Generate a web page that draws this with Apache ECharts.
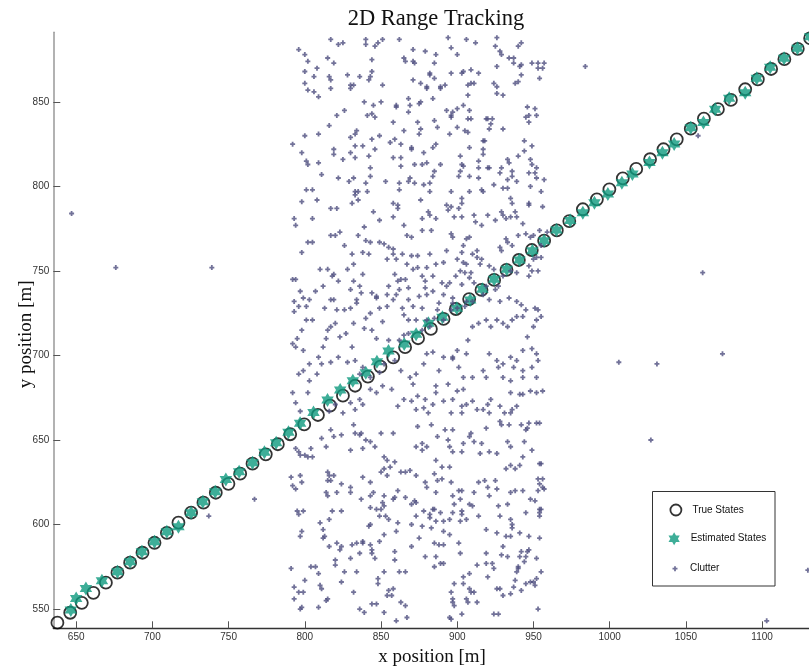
<!DOCTYPE html>
<html>
<head>
<meta charset="utf-8">
<script src="https://cdn.jsdelivr.net/npm/echarts@6/dist/echarts.min.js"></script>
<style>
  html, body { margin: 0; padding: 0; background: #fff; }
  #chart { width: 809px; height: 670px; }
</style>
</head>
<body>
<div id="chart"></div>
<script>
// Axis ticks
const xTicks = [650, 700, 750, 800, 850, 900, 950, 1000, 1050, 1100];
const yTicks = [550, 600, 650, 700, 750, 800, 850];

// True target positions, one per scan
const trueX = [637.7,646.1,653.7,661.3,669.5,677.1,685.4,693.5,701.4,709.5,717.1,725.4,733.5,741.6,749.9,757.6,765.7,774.4,782.3,790.4,799.6,808.6,816.6,825.0,833.0,841.4,849.6,858.0,865.8,874.3,882.7,891.0,899.1,907.8,915.9,924.2,932.3,940.4,948.9,957.0,965.3,973.5,982.4,991.6,999.8,1008.6,1017.4,1026.5,1035.3,1044.0,1053.2,1061.8,1071.0,1079.5,1088.9,1097.2,1105.9,1114.6,1123.4,1131.5];
const trueY = [541.9,547.8,553.7,559.6,565.6,571.5,577.4,583.3,589.2,595.1,601.1,607.0,612.9,618.8,624.1,630.1,636.0,641.5,647.5,653.4,659.2,664.8,670.3,676.2,682.1,687.5,693.4,698.9,704.9,710.2,715.7,721.6,727.5,733.4,738.8,744.7,750.6,756.5,762.4,767.9,774.0,779.5,786.5,792.4,798.3,804.8,810.4,816.1,822.0,827.9,834.2,840.1,845.7,851.2,857.5,863.4,869.5,875.3,881.4,887.7];

// Filter estimates (from the second scan on)
const estX = [646.5,650.0,656.4,666.9,677.1,685.4,693.1,701.4,709.5,717.1,725.4,733.1,741.2,748.2,756.9,765.7,773.5,781.2,789.3,796.9,805.7,814.9,823.2,831.5,840.0,847.3,854.9,865.2,873.0,881.1,890.3,899.7,908.5,916.5,924.2,932.5,940.8,949.3,957.0,965.1,974.1,982.4,990.0,998.8,1008.0,1014.9,1026.1,1034.6,1042.3,1053.2,1061.5,1069.2,1078.4,1088.9,1096.5,1105.3,1114.4,1123.2,1131.5];
const estY = [549.4,556.3,562.1,566.7,572.1,578.0,583.9,589.8,595.7,598.7,607.0,613.5,619.4,626.7,631.2,636.6,642.7,648.4,654.6,659.9,666.2,673.7,679.6,685.1,689.8,696.3,702.7,706.8,712.5,719.1,722.6,727.9,732.8,739.2,745.1,751.0,756.5,762.0,767.9,774.3,779.8,784.5,790.4,795.6,802.2,807.4,814.1,820.0,825.1,834.8,837.8,845.7,852.2,855.5,864.0,870.5,875.9,881.8,888.5];

// Clutter detections [x, y]
const clutter = [
[817,887],[822,884],[825,885],[840,887],[840,884],[846,883],[848,885],[851,887],[862,887],[894,888],[896,882],[906,887],[912,885],[926,888],[925,883],[928,880],[929,878],[940,883],[942,885],[796,881],[800,878],[802,874],[808,870],[800,868],[806,865],[800,861],[802,857],[806,856],[809,853],[815,876],[819,873],[816,865],[817,863],[817,858],[828,866],[836,865],[830,860],[832,860],[830,858],[844,875],[844,868],[842,863],[843,865],[851,860],[865,876],[866,874],[871,874],[872,873],[871,881],[879,880],[886,878],[885,873],[882,867],[882,866],[885,864],[871,863],[876,861],[880,859],[880,858],[889,859],[889,858],[892,860],[900,878],[896,867],[903,867],[904,868],[909,869],[914,867],[907,860],[909,861],[911,861],[907,854],[924,861],[926,859],[926,871],[926,855],[930,854],[934,876],[937,876],[937,873],[941,871],[942,872],[942,866],[940,862],[938,861],[949,873],[953,873],[953,870],[957,873],[956,870],[954,864],[839,850],[845,848],[850,850],[860,848],[860,847],[868,852],[869,848],[868,844],[875,849],[876,850],[884,852],[821,842],[826,845],[816,836],[841,842],[844,843],[846,841],[858,838],[865,833],[874,838],[876,834],[875,831],[885,839],[887,835],[893,845],[896,842],[897,844],[896,841],[900,846],[904,848],[908,845],[907,840],[909,840],[900,835],[905,833],[907,832],[895,831],[919,840],[920,840],[923,840],[921,834],[922,837],[930,834],[946,847],[951,846],[947,842],[945,841],[952,842],[947,838],[800,830],[809,831],[792,825],[798,820],[801,815],[802,813],[809,814],[811,807],[830,829],[833,831],[834,833],[833,824],[838,824],[819,822],[819,819],[825,816],[830,820],[833,817],[822,805],[829,803],[832,805],[842,818],[843,811],[843,806],[846,822],[844,828],[849,830],[856,826],[859,828],[863,825],[858,817],[863,817],[863,812],[870,823],[870,822],[878,820],[872,813],[877,813],[880,814],[884,823],[886,825],[889,813],[869,805],[868,803],[872,802],[878,801],[882,802],[882,797],[884,806],[885,809],[902,818],[903,813],[904,812],[902,809],[901,806],[908,823],[908,806],[914,815],[914,811],[914,805],[917,827],[918,827],[917,822],[917,819],[920,811],[921,811],[924,801],[928,808],[929,811],[933,816],[934,814],[933,804],[936,809],[936,806],[939,803],[940,818],[944,821],[944,827],[949,824],[948,816],[949,813],[952,811],[947,808],[951,808],[952,805],[957,804],[948,800],[955,797],[801,798],[805,798],[808,792],[798,791],[817,787],[821,787],[833,797],[833,795],[835,797],[831,790],[835,792],[841,797],[840,802],[853,803],[862,802],[862,798],[858,790],[861,789],[858,782],[861,787],[845,785],[849,780],[839,776],[865,777],[876,792],[881,785],[877,781],[882,783],[886,781],[896,797],[893,789],[896,788],[894,786],[898,782],[903,793],[903,790],[901,787],[903,782],[908,797],[911,783],[912,779],[916,798],[917,797],[916,777],[920,783],[925,780],[930,799],[933,799],[935,793],[936,790],[938,785],[939,782],[935,782],[929,785],[930,783],[932,781],[943,778],[947,790],[947,789],[956,788],[793,781],[794,777],[805,781],
[817,771],[820,771],[823,773],[802,767],[805,767],[798,761],[835,771],[840,768],[843,767],[831,760],[838,761],[842,760],[826,765],[810,751],[815,751],[819,748],[818,747],[828,751],[832,754],[832,744],[822,744],[830,739],[838,748],[836,741],[792,745],[794,745],[793,732],[797,738],[799,734],[807,738],[812,741],[803,733],[801,729],[796,729],[793,726],[817,733],[819,733],[813,728],[821,727],[826,727],[830,728],[834,733],[834,731],[837,737],[844,737],[847,735],[847,734],[854,736],[858,733],[854,729],[849,728],[843,725],[840,722],[832,719],[839,716],[844,715],[851,720],[847,710],[855,709],[862,709],[865,712],[868,713],[873,721],[877,728],[865,724],[864,728],[868,733],[871,729],[868,721],[860,736],[862,739],[855,741],[859,748],[863,745],[868,740],[866,745],[861,744],[867,754],[870,759],[864,760],[858,760],[860,757],[854,757],[855,764],[852,766],[858,763],[849,767],[867,771],[870,770],[877,774],[883,774],[882,760],[874,759],[874,752],[871,751],[880,752],[886,754],[891,755],[884,747],[890,743],[877,747],[879,744],[879,740],[884,738],[888,731],[887,727],[891,736],[880,736],[875,735],[880,721],[877,715],[882,717],[885,722],[891,721],[896,727],[900,728],[905,729],[906,732],[910,732],[897,731],[897,734],[893,741],[895,743],[899,747],[902,750],[905,749],[909,749],[908,746],[911,743],[903,742],[904,755],[900,757],[906,754],[910,760],[913,758],[916,757],[903,761],[904,765],[906,769],[908,770],[896,772],[897,770],[893,762],[913,762],[915,754],[921,753],[924,751],[929,762],[928,764],[932,769],[933,767],[936,765],[940,771],[945,772],[948,770],[950,771],[954,774],[959,773],[955,765],[955,758],[952,758],[950,757],[947,753],[949,750],[953,750],[947,747],[939,749],[935,750],[930,747],[927,741],[925,739],[919,741],[917,736],[921,733],[928,732],[934,734],[939,732],[942,730],[945,727],[951,728],[953,727],[955,723],[952,721],[950,717],[946,711],[943,703],[949,704],[952,701],[953,697],[949,693],[952,687],[956,679],[952,678],[948,679],[943,677],[941,677],[935,678],[939,670],[936,668],[935,666],[931,666],[928,670],[922,674],[920,671],[921,666],[917,668],[913,668],[910,673],[906,671],[903,666],[903,670],[897,674],[896,666],[897,699],[901,693],[904,687],[910,687],[904,680],[900,679],[894,683],[888,691],[886,682],[891,673],[886,678],[884,671],[879,674],[878,669],[881,666],[873,668],[874,676],[870,673],[865,674],[861,670],[857,680],[851,682],[847,678],[843,680],[838,671],[836,674],[833,668],[830,672],[825,666],[820,671],[816,667],[802,678],[797,667],[794,672],[792,678],[796,689],[799,691],[803,695],[803,685],[808,689],[809,699],[812,705],[814,710],[815,715],[817,717],[820,719],[823,711],[827,713],[831,705],[833,697],[828,696],[822,699],[811,695],[799,703],[794,705],[792,707],[795,710],[798,715],[801,721],[805,721],[817,696],[836,689],[838,693],[843,687],[849,690],[852,695],[859,697],[863,691],[869,687],[871,683],[873,689],[878,695],[880,701],[884,702],[891,699],[897,698],[900,703],[906,701],[907,709],[910,717],[914,719],[919,721],[922,717],[926,721],[930,719],[933,717],[936,721],[939,723],[943,723],[921,701],[926,697],[930,695],[935,699],[927,693],[917,691],[919,687],[930,687],[935,685],[943,687],[943,691],[937,693],[939,697],
[817,656],[819,652],[824,653],[832,659],[833,654],[836,653],[837,654],[840,650],[843,649],[830,644],[838,645],[846,646],[850,654],[858,654],[874,658],[873,646],[877,648],[880,646],[877,644],[883,659],[887,652],[892,656],[897,656],[894,650],[895,646],[897,643],[903,643],[904,648],[908,652],[909,654],[911,649],[916,648],[919,657],[926,642],[928,661],[929,659],[934,659],[935,646],[933,649],[942,659],[947,660],[952,660],[954,660],[945,656],[946,657],[949,644],[944,649],[915,642],[921,643],[811,651],[814,646],[804,645],[800,641],[794,645],[797,641],[796,643],[805,640],[802,640],[791,628],[792,623],[794,621],[797,629],[798,625],[815,631],[816,629],[819,629],[817,626],[815,626],[824,624],[830,622],[830,619],[838,628],[843,625],[850,631],[852,633],[854,629],[856,634],[854,638],[852,640],[859,637],[863,631],[866,631],[869,632],[873,629],[879,625],[880,622],[885,630],[887,626],[890,627],[890,634],[886,638],[895,634],[896,625],[901,620],[903,620],[897,617],[886,619],[872,614],[873,613],[870,612],[866,616],[861,620],[858,615],[859,616],[852,617],[851,613],[845,619],[843,617],[837,615],[850,609],[847,609],[849,605],[853,605],[855,603],[843,610],[852,611],[842,599],[843,600],[838,589],[834,589],[831,588],[824,587],[823,585],[821,589],[816,587],[812,597],[813,593],[812,592],[810,601],[816,603],[818,608],[824,608],[821,619],[815,617],[814,619],[795,608],[796,606],[799,608],[798,596],[797,593],[791,574],[793,563],[793,556],[796,560],[797,550],[798,551],[799,560],[800,567],[804,575],[807,575],[809,571],[810,564],[811,562],[815,556],[814,555],[809,551],[820,579],[820,576],[826,572],[824,566],[830,580],[832,560],[836,550],[839,548],[834,572],[836,583],[838,590],[843,588],[844,585],[846,580],[844,583],[849,590],[852,572],[855,561],[854,558],[857,558],[858,562],[862,572],[866,572],[859,584],[859,579],[863,554],[866,552],[867,545],[860,543],[852,548],[847,553],[844,553],[848,568],[848,565],[861,601],[860,596],[852,594],[870,587],[870,600],[873,605],[875,592],[877,599],[878,608],[882,606],[882,604],[884,609],[885,609],[883,598],[886,602],[889,607],[891,602],[879,581],[885,575],[886,581],[889,577],[891,577],[885,589],[888,588],[891,588],[891,596],[895,594],[897,607],[898,612],[902,615],[903,608],[903,606],[902,602],[906,603],[908,612],[910,611],[914,605],[895,603],[901,589],[902,583],[898,565],[896,560],[897,556],[897,554],[898,552],[895,545],[896,544],[903,547],[904,569],[904,565],[908,571],[908,562],[909,560],[906,556],[907,554],[911,560],[913,554],[913,576],[919,577],[919,583],[920,569],[923,577],[924,574],[924,547],[927,547],[926,562],[928,562],[930,558],[935,559],[937,563],[942,561],[938,567],[939,572],[940,574],[940,575],[941,581],[942,584],[945,581],[946,584],[947,585],[944,578],[948,566],[945,565],[950,566],[951,564],[952,568],[955,572],[952,580],[953,550],[930,587],[933,581],[929,582],[935,593],[932,593],[926,595],[919,597],[928,605],[935,603],[936,600],[936,598],[941,595],[947,593],[954,592],[945,607],[954,609],[954,607],[954,605],[955,609],[948,615],[951,614],[953,620],[943,620],[938,620],[935,619],[927,611],[933,612],[921,617],[918,626],[925,626],[926,621],[914,625],[911,619],[920,622],[932,633],[935,635],[938,633],[941,635],[943,640],[954,636],[955,636],[953,627],[956,627],[956,622],[957,621],[954,624],
[647,784],[676,752],[739,752],[984,871],[1058,830],[1061,749],[1006,696],[1031,695],[1074,701],[1027,650],[767,615],[737,605],[1103,543],[1130,573]
];

const truePoints = trueX.map((x, i) => [x, trueY[i]]);
const estPoints = estX.map((x, i) => [x, estY[i]]);

// Six-pointed star marker and small plus marker
const hexagram = 'path://M10 0L12.885 5L18.66 5L15.77 10L18.66 15L12.885 15L10 20L7.115 15L1.34 15L4.23 10L1.34 5L7.115 5Z';
const plus = 'path://M1.6 0H3.4V1.6H5V3.4H3.4V5H1.6V3.4H0V1.6H1.6Z';

const chart = echarts.init(document.getElementById('chart'), null, { renderer: 'canvas' });

const legendText = { fontSize: 10, color: '#111', fontFamily: 'Liberation Sans', lineHeight: 14, padding: [0, 0, 0, 2] };
const plainNumber = v => String(v);

chart.setOption({
  animation: false,
  backgroundColor: '#fff',
  title: {
    text: '2D Range Tracking',
    left: 431,
    textAlign: 'center',
    top: 3,
    textStyle: { fontFamily: 'Liberation Serif', fontSize: 22.5, fontWeight: 'normal', color: '#111' }
  },
  grid: { left: 53.3, top: 32.3, width: 757.6, height: 596, containLabel: false, outerBoundsMode: 'none' },
  xAxis: {
    type: 'value', min: 635, max: 1132,
    name: 'x position [m]', nameLocation: 'middle', nameGap: 19, nameMoveOverlap: false,
    nameTextStyle: { fontFamily: 'Liberation Serif', fontSize: 19, color: '#111' },
    axisLine: { show: true, onZero: false, lineStyle: { color: '#333', width: 1.3 } },
    axisTick: { show: true, inside: true, length: 7, customValues: xTicks, lineStyle: { color: '#555', width: 1 } },
    axisLabel: { customValues: xTicks, formatter: plainNumber, fontSize: 10, color: '#333', margin: 4, fontFamily: 'Liberation Sans' },
    splitLine: { show: false }
  },
  yAxis: {
    type: 'value', min: 538.6, max: 891.2,
    name: 'y position [m]', nameLocation: 'middle', nameGap: 18, nameMoveOverlap: false,
    nameTextStyle: { fontFamily: 'Liberation Serif', fontSize: 19, color: '#111', padding: [0, 8, 0, 0] },
    axisLine: { show: true, onZero: false, lineStyle: { color: '#999', width: 1.5 } },
    axisTick: { show: true, inside: true, length: 7, customValues: yTicks, lineStyle: { color: '#555', width: 1 } },
    axisLabel: { customValues: yTicks, formatter: plainNumber, fontSize: 10, color: '#333', margin: 4, fontFamily: 'Liberation Sans' },
    splitLine: { show: false }
  },
  legend: [
    { data: ['True States'], left: 669.5, top: 503, orient: 'vertical', padding: 0, itemWidth: 19, itemHeight: 11,
      selectedMode: false, textStyle: legendText, itemStyle: { borderWidth: 1.8 } },
    { data: ['Estimated States'], left: 668.5, top: 531.7, orient: 'vertical', padding: 0, itemWidth: 19, itemHeight: 13,
      selectedMode: false, textStyle: legendText },
    { data: ['Clutter'], left: 672.5, top: 561.7, orient: 'vertical', padding: 0, itemWidth: 16, itemHeight: 5,
      selectedMode: false, textStyle: legendText }
  ],
  graphic: [{
    type: 'rect', z: 3,
    shape: { x: 652.5, y: 491.5, width: 122.5, height: 94.5 },
    style: { fill: '#fff', stroke: '#333', lineWidth: 1 }
  }],
  series: [
    {
      name: 'True States', type: 'scatter', data: truePoints, z: 2,
      symbol: 'circle', symbolSize: 12,
      itemStyle: { color: 'rgba(0,0,0,0)', borderColor: '#000', borderWidth: 1.8 },
      emphasis: { disabled: true }
    },
    {
      name: 'Estimated States', type: 'scatter', data: estPoints, z: 3,
      symbol: hexagram, symbolSize: [12.5, 14],
      itemStyle: { color: '#0e9a7e' },
      emphasis: { disabled: true }
    },
    {
      name: 'Clutter', type: 'scatter', data: clutter, z: 4,
      symbol: plus, symbolSize: 5,
      itemStyle: { color: '#4f4f80' },
      emphasis: { disabled: true }
    }
  ]
});
</script>
</body>
</html>
